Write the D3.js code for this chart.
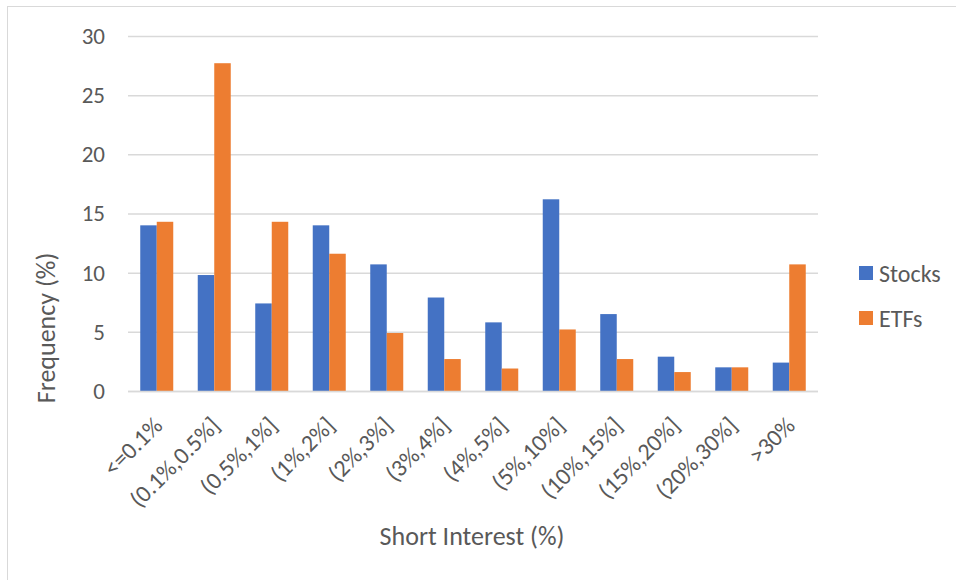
<!DOCTYPE html>
<html>
<head>
<meta charset="utf-8">
<script src="https://cdn.jsdelivr.net/npm/d3@7"></script>
<style>
  html, body { margin: 0; padding: 0; background: #fff; }
  svg { display: block; }
  text { font-family: Calibri, Carlito, "Open Sans", sans-serif; fill: #595959; }
</style>
</head>
<body>
<svg id="chart" width="956" height="580"></svg>
<script>
// Short interest buckets and the share of securities in each (%)
const categories = ["<=0.1%", "(0.1%,0.5%]", "(0.5%,1%]", "(1%,2%]", "(2%,3%]", "(3%,4%]",
                    "(4%,5%]", "(5%,10%]", "(10%,15%]", "(15%,20%]", "(20%,30%]", ">30%"];
const seriesNames = ["Stocks", "ETFs"];
const stocks = [14.0, 9.8, 7.4, 14.0, 10.7, 7.9, 5.8, 16.2, 6.5, 2.9, 2.0, 2.4];
const etfs   = [14.3, 27.7, 14.3, 11.6, 4.9, 2.7, 1.9, 5.2, 2.7, 1.6, 2.0, 10.7];
const yTicks = [0, 5, 10, 15, 20, 25, 30];
const colors = ["#4472C4", "#ED7D31"];

const FONT = "Calibri, Carlito, 'Open Sans', sans-serif";
const svg = d3.select("#chart");
const plot = { left: 128, right: 818, top: 36, bottom: 391 };

// Chart area frame
svg.append("rect")
  .attr("x", 7.5).attr("y", 6.5)
  .attr("width", 960).attr("height", 600)
  .attr("fill", "none").attr("stroke", "#d9d9d9").attr("stroke-width", 1);

const x = d3.scaleBand()
  .domain(categories)
  .range([plot.left, plot.right])
  .paddingInner(0.426)
  .paddingOuter(0.213);

const xs = d3.scaleBand()
  .domain(seriesNames)
  .range([0, x.bandwidth()]);

const y = d3.scaleLinear()
  .domain([0, 30])
  .range([plot.bottom, plot.top]);

// Horizontal gridlines and value labels
const yAxis = d3.axisLeft(y).tickValues(yTicks).tickSize(-(plot.right - plot.left)).tickPadding(23);
const gy = svg.append("g").attr("transform", `translate(${plot.left},0)`).call(yAxis);
gy.select(".domain").remove();
gy.selectAll(".tick line").attr("stroke", "#d9d9d9").attr("stroke-width", 1.5);
gy.selectAll(".tick text").attr("font-size", 23).attr("fill", "#595959")
  .style("font-family", FONT);

// Bars
const rows = categories.map((c, i) => ({ cat: c, values: [stocks[i], etfs[i]] }));
const groups = svg.append("g").selectAll("g")
  .data(rows).join("g")
  .attr("transform", d => `translate(${x(d.cat)},0)`);
groups.selectAll("rect")
  .data(d => d.values.map((v, k) => ({ name: seriesNames[k], v, k })))
  .join("rect")
  .attr("x", d => xs(d.name))
  .attr("y", d => y(d.v))
  .attr("width", xs.bandwidth())
  .attr("height", d => y(0) - y(d.v))
  .attr("fill", d => colors[d.k]);

// Category axis line
svg.append("line")
  .attr("x1", plot.left).attr("x2", plot.right)
  .attr("y1", plot.bottom + 0.5).attr("y2", plot.bottom + 0.5)
  .attr("stroke", "#d9d9d9").attr("stroke-width", 1.5);

// Rotated category labels
const xAxis = d3.axisBottom(x).tickSize(0).tickPadding(0);
const gx = svg.append("g").attr("transform", `translate(0,${plot.bottom})`).call(xAxis);
gx.select(".domain").remove();
gx.selectAll(".tick text")
  .attr("font-size", 24).attr("fill", "#595959")
  .style("font-family", FONT)
  .attr("text-anchor", "end")
  .attr("dy", null).attr("y", 0)
  .attr("transform", "translate(-6,23) rotate(-45)")
  .attr("dominant-baseline", "hanging");

// Axis titles
svg.append("text")
  .attr("transform", "translate(46,328) rotate(-90)")
  .attr("text-anchor", "middle").attr("dominant-baseline", "central")
  .attr("font-size", 26)
  .text("Frequency (%)");

svg.append("text")
  .attr("x", 472).attr("y", 536)
  .attr("text-anchor", "middle").attr("dominant-baseline", "central")
  .attr("font-size", 26)
  .text("Short Interest (%)");

// Legend
const legend = svg.append("g").attr("transform", "translate(859,266)");
const items = legend.selectAll("g").data(seriesNames).join("g")
  .attr("transform", (d, i) => `translate(0,${i * 45})`);
items.append("rect").attr("width", 14).attr("height", 14).attr("fill", (d, i) => colors[i]);
items.append("text").attr("x", 20).attr("y", 7)
  .attr("dominant-baseline", "central").attr("font-size", 24)
  .text(d => d);
</script>
</body>
</html>
